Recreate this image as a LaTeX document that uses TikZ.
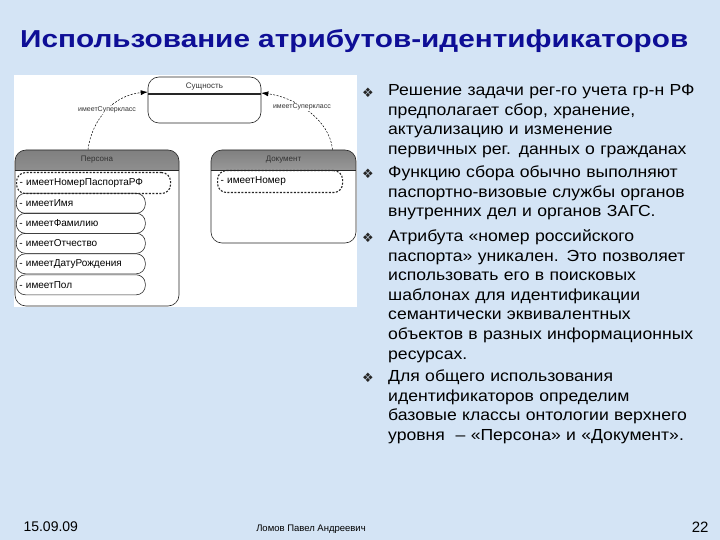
\documentclass[tikz,border=0pt]{standalone}
\usepackage{fontspec}
\setmainfont{Liberation Sans}
\newfontfamily\widefont[FakeStretch=1.1]{Liberation Sans}
\newfontfamily\dingfont{DejaVu Sans}
\usetikzlibrary{positioning,arrows.meta}

\definecolor{slidebg}{RGB}{212,228,245}
\definecolor{titleblue}{RGB}{14,14,150}

\tikzset{
  classbox/.style={draw=black!85, fill=white, rounded corners=11pt, inner sep=0pt, line width=0.6pt,
    path picture={
      \shade[sharp corners, top color=black!50, bottom color=black!5]
        (path picture bounding box.north west) rectangle ([yshift=-20pt]path picture bounding box.north east);
      \draw[sharp corners, line width=0.6pt] ([yshift=-20pt]path picture bounding box.north west)
        -- ([yshift=-20pt]path picture bounding box.north east);}},
  topbox/.style={draw=black!85, fill=white, rounded corners=11pt, inner sep=0pt, line width=0.6pt,
    path picture={
      \draw[sharp corners, line width=1.3pt] ([yshift=-17pt]path picture bounding box.north west)
        -- ([yshift=-17pt]path picture bounding box.north east);}},
  hdr/.style={font=\fontsize{8}{9}\selectfont, text=black!80, inner sep=0pt},
  attr/.style={draw=black!85, rounded corners=9pt, line width=0.6pt, minimum height=20pt,
    inner xsep=3pt, inner ysep=0pt, align=left, anchor=north west, font=\fontsize{10}{12}\selectfont},
  keyattr/.style={attr, line width=1.1pt, dash pattern=on 2pt off 1.5pt},
  sub/.style={line width=0.5pt, dash pattern=on 2pt off 1.5pt, -{Latex[length=7pt,width=5pt]}},
  lbl/.style={fill=white, inner sep=1pt, font=\fontsize{7}{8}\selectfont, text=black!80},
  para/.style={anchor=north west, inner sep=0pt, align=left, text width=330pt,
    font=\widefont\fontsize{16}{19.6}\selectfont},
  bul/.style={inner sep=0pt, font=\dingfont\fontsize{13}{14}\selectfont, text=black!85},
}

\begin{document}
\begin{tikzpicture}[x=1pt, y=-1pt]
  \useasboundingbox (0,0) rectangle (720,540);
  \fill[slidebg] (0,0) rectangle (720,540);

  % title
  \node[font=\bfseries\fontsize{24.5}{28}\selectfont, text=titleblue, anchor=west, inner sep=0pt] (title) at (20,41)
    {\resizebox{668pt}{\height}{Использование атрибутов-идентификаторов}};

  % ontology diagram
  \fill[white] (14,75) rectangle (357,307);

  \node[topbox, minimum width=113pt, minimum height=46pt] (ent) at (204.5,100) {};
  \node[hdr, below=6pt of ent.north] (entname) {Сущность};

  \node[classbox, minimum width=164pt, minimum height=156pt] (pers) at (97,228) {};
  \node[hdr, below=6pt of pers.north] (persname) {Персона};

  \node[classbox, minimum width=145pt, minimum height=93pt] (doc) at (283.5,196.5) {};
  \node[hdr, below=6pt of doc.north] (docname) {Документ};

  \node[keyattr, text width=148pt, minimum height=21pt] (pasp) at (16,172) {- имеетНомерПаспортаРФ};
  \node[attr, text width=123pt] (name) at (16,193) {- имеетИмя};
  \node[attr, text width=123pt] (surname) at (16,213) {- имеетФамилию};
  \node[attr, text width=123pt] (patr) at (16,233) {- имеетОтчество};
  \node[attr, text width=123pt] (birth) at (16,253.5) {- имеетДатуРождения};
  \node[attr, text width=123pt] (sex) at (16,274.5) {- имеетПол};

  \node[keyattr, text width=119pt, minimum height=22pt] (num) at (217,170) {- имеетНомер};

  \draw[sub] ([xshift=-9pt]pers.north) .. controls (92,118) and (115,95) .. ([yshift=8pt]ent.west)
    node[lbl, pos=0.5] (perslbl) {имеетСуперкласс};
  \draw[sub] ([xshift=49pt]doc.north) .. controls (330,120) and (295,97) .. ([yshift=7pt]ent.east)
    node[lbl, pos=0.58] (doclbl) {имеетСуперкласс};

  % text on the right
  \node[para] (p1) at (388,84.5) {Решение задачи рег-го учета гр-н РФ\\
    предполагает сбор, хранение,\\ актуализацию и изменение\\ первичных рег. данных о гражданах};
  \node[para] (p2) at (388,165.5) {Функцию сбора обычно выполняют\\
    паспортно-визовые службы органов\\ внутренних дел и органов ЗАГС.};
  \node[para] (p3) at (388,229.5) {Атрибута «номер российского\\ паспорта» уникален. Это позволяет\\
    использовать его в поисковых\\ шаблонах для идентификации\\ семантически эквивалентных\\
    объектов в разных информационных\\ ресурсах.};
  \node[para] (p4) at (388,369.5) {Для общего использования\\ идентификаторов определим\\
    базовые классы онтологии верхнего\\ уровня ~– «Персона» и «Документ».};

  \node[bul] (b1) at ([xshift=-20pt, yshift=-8pt]p1.north west) {❖};
  \node[bul] (b2) at ([xshift=-20pt, yshift=-8pt]p2.north west) {❖};
  \node[bul] (b3) at ([xshift=-20pt, yshift=-8pt]p3.north west) {❖};
  \node[bul] (b4) at ([xshift=-20pt, yshift=-8pt]p4.north west) {❖};

  % footer
  \node[anchor=west, font=\fontsize{14}{16}\selectfont] (date) at (20,527) {15.09.09};
  \node[font=\fontsize{9.5}{11}\selectfont] (author) at (311,529) {Ломов Павел Андреевич};
  \node[anchor=east, font=\fontsize{15}{17}\selectfont] (page) at (712,527) {22};
\end{tikzpicture}
\end{document}
